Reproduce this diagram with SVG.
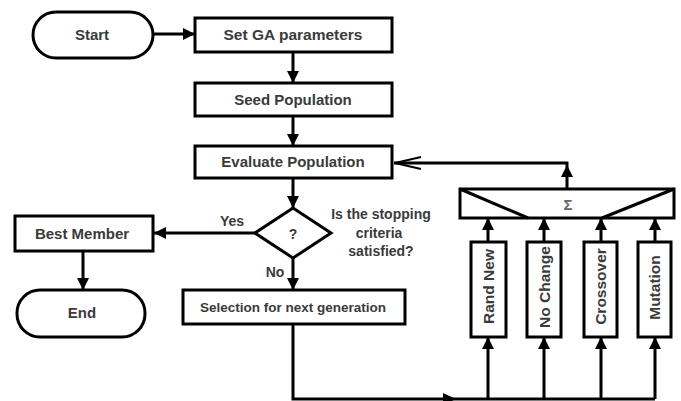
<svg xmlns="http://www.w3.org/2000/svg" width="681" height="401" viewBox="0 0 681 401">
  <defs>
    <marker id="arrow" viewBox="0 0 12 12" refX="12" refY="6" markerWidth="12" markerHeight="12" markerUnits="userSpaceOnUse" orient="auto">
      <path d="M0,0 L12,6 L0,12 Z" fill="#000"/>
    </marker>
  </defs>
  <style>
    .box { fill: #fff; stroke: #000; stroke-width: 3; }
    .lbl { font-family: "Liberation Sans", Arial, sans-serif; font-weight: bold; fill: #3a3a3a; text-anchor: middle; }
    .edge { fill: none; stroke: #000; stroke-width: 3; }
    .ar { marker-end: url(#arrow); }
  </style>
  <rect width="681" height="401" fill="#fff"/>

  <!-- connectors -->
  <g id="connectors">
    <line class="edge ar" x1="153" y1="34" x2="195" y2="34"/>
    <line class="edge ar" x1="293" y1="52" x2="293" y2="83"/>
    <line class="edge ar" x1="293" y1="116" x2="293" y2="146"/>
    <line class="edge ar" x1="293" y1="178" x2="293" y2="208"/>
    <line class="edge ar" x1="255" y1="233" x2="154" y2="233"/>
    <line class="edge ar" x1="293" y1="258" x2="293" y2="290"/>
    <line class="edge ar" x1="83" y1="251" x2="83" y2="290"/>
    <!-- selection to operators -->
    <polyline class="edge" points="293,324 293,399 655,399"/>
    <path d="M443,393 L456,399 L443,405 Z" fill="#000"/>
    <line class="edge ar" x1="488" y1="399" x2="488" y2="337"/>
    <line class="edge ar" x1="544" y1="399" x2="544" y2="337"/>
    <line class="edge ar" x1="601" y1="399" x2="601" y2="337"/>
    <line class="edge ar" x1="655" y1="399" x2="655" y2="337"/>
    <!-- operators to sum -->
    <line class="edge ar" x1="488" y1="242" x2="488" y2="218"/>
    <line class="edge ar" x1="544" y1="242" x2="544" y2="218"/>
    <line class="edge ar" x1="601" y1="242" x2="601" y2="218"/>
    <line class="edge ar" x1="655" y1="242" x2="655" y2="218"/>
    <!-- sum back to evaluation -->
    <line class="edge ar" x1="567" y1="189" x2="567" y2="165"/>
    <polyline class="edge" points="567,165 567,163 394,163"/>
    <polyline points="421,157 395,163 421,169" fill="none" stroke="#000" stroke-width="1.8"/>
  </g>

  <g id="start">
    <rect class="box" x="33" y="12" width="120" height="46" rx="23"/>
    <text class="lbl" x="92" y="40" font-size="15">Start</text>
  </g>
  <g id="set-params">
    <rect class="box" x="195" y="18" width="197" height="34"/>
    <text class="lbl" x="293" y="40" font-size="15.5">Set GA parameters</text>
  </g>
  <g id="seed">
    <rect class="box" x="195" y="83" width="197" height="33"/>
    <text class="lbl" x="293" y="105" font-size="15">Seed Population</text>
  </g>
  <g id="evaluate">
    <rect class="box" x="195" y="146" width="197" height="32"/>
    <text class="lbl" x="293" y="167" font-size="15">Evaluate Population</text>
  </g>
  <g id="decision">
    <polygon class="box" points="293,208 331,233 293,258 255,233"/>
    <text class="lbl" x="293" y="239" font-size="14">?</text>
    <text class="lbl" x="232" y="226" font-size="14">Yes</text>
    <text class="lbl" x="275" y="277" font-size="14">No</text>
    <text class="lbl" x="381" y="219" font-size="14">Is the stopping</text>
    <text class="lbl" x="379" y="238" font-size="14">criteria</text>
    <text class="lbl" x="381" y="256" font-size="14">satisfied?</text>
  </g>
  <g id="best-member">
    <rect class="box" x="15" y="216" width="138" height="35"/>
    <text class="lbl" x="82" y="239" font-size="15">Best Member</text>
  </g>
  <g id="end">
    <rect class="box" x="17" y="290" width="128" height="47" rx="23"/>
    <text class="lbl" x="82" y="318" font-size="15">End</text>
  </g>
  <g id="selection">
    <rect class="box" x="183" y="290" width="222" height="34"/>
    <text class="lbl" x="293" y="312" font-size="13.5">Selection for next generation</text>
  </g>
  <g id="sum">
    <rect class="box" x="460" y="189" width="214" height="29"/>
    <polyline class="edge" points="460,189 528,218"/>
    <polyline class="edge" points="674,189 602,218"/>
    <text class="lbl" x="568" y="210" font-size="15" style="fill:#666">Σ</text>
  </g>
  <g id="rand-new">
    <rect class="box" x="471" y="242" width="35" height="95"/>
    <text class="lbl" transform="translate(494,286.5) rotate(-90)" font-size="15.5">Rand New</text>
  </g>
  <g id="no-change">
    <rect class="box" x="527" y="242" width="34" height="95"/>
    <text class="lbl" transform="translate(550,287) rotate(-90)" font-size="15.5">No Change</text>
  </g>
  <g id="crossover">
    <rect class="box" x="584" y="242" width="33" height="95"/>
    <text class="lbl" transform="translate(606,286.5) rotate(-90)" font-size="15.5">Crossover</text>
  </g>
  <g id="mutation">
    <rect class="box" x="638" y="242" width="33" height="95"/>
    <text class="lbl" transform="translate(660,287.5) rotate(-90)" font-size="15.5">Mutation</text>
  </g>
</svg>
